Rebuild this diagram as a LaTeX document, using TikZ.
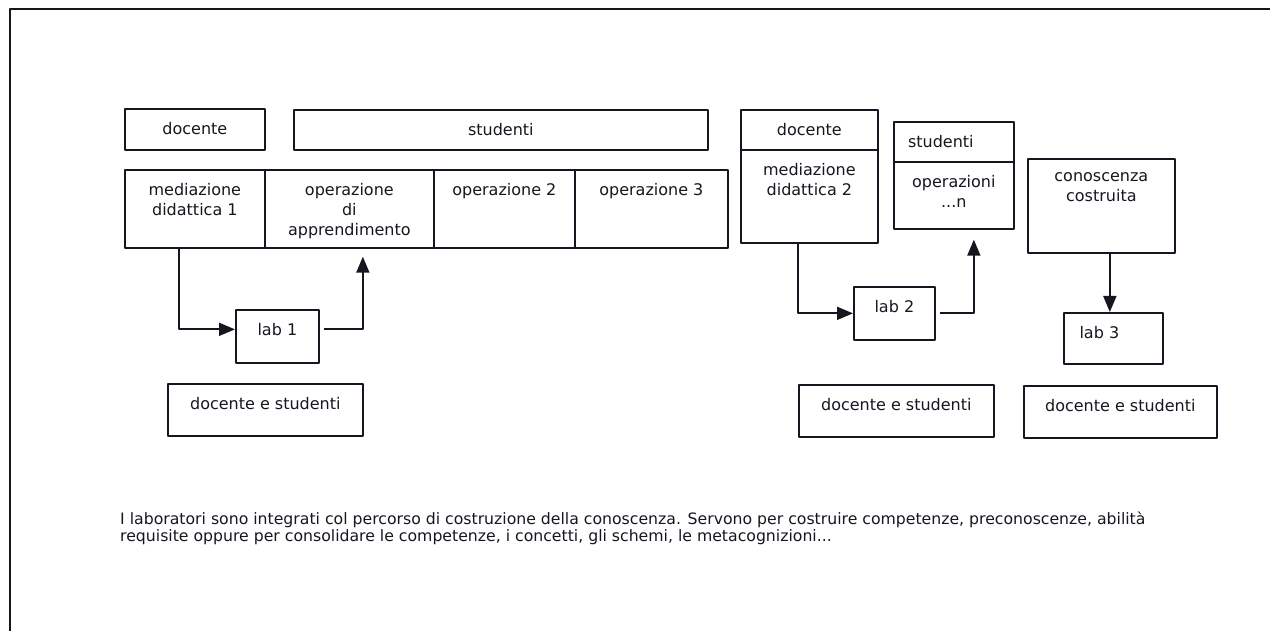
\documentclass[tikz,border=0pt]{standalone}
\usepackage{fontspec}
\setmainfont{DejaVu Sans}
\usetikzlibrary{arrows.meta}
\definecolor{ink}{RGB}{22,22,32}
\begin{document}
\begin{tikzpicture}[x=1pt, y=-1pt, line join=round, ink,
	box/.style={draw=ink, line width=1.7pt, inner sep=0pt, anchor=north west},
	toptext/.style={label={[anchor=north, inner sep=0pt, yshift=-14pt, align=center, font=\fontsize{16}{20}\selectfont]north:{#1}}},
	arr/.style={line width=1.7pt, -{Triangle[length=16pt,width=13pt]}}]
				\useasboundingbox (0,0) rectangle (1270,631);
				\draw[line width=2.5pt] (10,631) -- (10,9) -- (1270,9);
				\node[box, minimum width=140pt, minimum height=41pt, toptext=docente] (doc1) at (124,108) {};
				\node[box, minimum width=414pt, minimum height=40pt, toptext=studenti] (stud1) at (293,109) {};
				\foreach \n/\x/\w/\t in {med1/124/140/{mediazione\\didattica 1}, opa/264/169/{operazione\\di\\apprendimento}, op2/433/141/{operazione 2}, op3/574/153/{operazione 3}}
					\node[box, minimum width=\w pt, minimum height=78pt, toptext=\t] (\n) at (\x,169) {};
				\node[box, minimum width=137pt, minimum height=40pt, toptext=docente] (doc2) at (740,109) {};
				\node[box, minimum width=137pt, minimum height=93pt, toptext={mediazione\\didattica 2}] (med2) at (740,149) {};
				\node[box, minimum width=120pt, minimum height=40pt, toptext={studenti\hspace*{26pt}}] (stud2) at (893,121) {};
				\node[box, minimum width=120pt, minimum height=67pt, toptext={operazioni\\...n}] (opn) at (893,161) {};
				\node[box, minimum width=147pt, minimum height=94pt, toptext={conoscenza\\costruita}] (conosc) at (1027,158) {};
				\node[box, minimum width=83pt, minimum height=53pt, toptext={lab 1}] (lab1) at (235,309) {};
				\node[box, minimum width=81pt, minimum height=53pt, toptext={lab 2}] (lab2) at (853,286) {};
				\node[box, minimum width=99pt, minimum height=51pt, toptext={lab 3\hspace*{28pt}}] (lab3) at (1063,312) {};
				\foreach \n/\x/\y/\w in {des1/167/383/195, des2/798/384/195, des3/1023/385/193}
					\node[box, minimum width=\w pt, minimum height=52pt, toptext={docente e studenti}] (\n) at (\x,\y) {};
				\draw[arr] ([xshift=55pt]med1.south west) |- ([yshift=7pt]lab1.west);
				\draw[arr] ([yshift=7pt,xshift=4pt]lab1.east) -| ([xshift=13.5pt,yshift=-8pt]opa.south);
				\draw[arr] ([xshift=-11.5pt]med2.south) |- (lab2.west);
				\draw[arr] ([xshift=4pt]lab2.east) -| ([xshift=20pt,yshift=-10pt]opn.south);
				\draw[arr] ([xshift=8.5pt]conosc.south) -- ([xshift=-3.5pt]lab3.north);
				\node[anchor=north west, inner sep=0pt, align=left, font=\fontsize{15.7}{17}\selectfont] (note) at (120,512) {I laboratori sono integrati col percorso di costruzione della conoscenza. Servono per costruire competenze, preconoscenze, abilità\\requisite oppure per consolidare le competenze, i concetti, gli schemi, le metacognizioni...};
\end{tikzpicture}
\end{document}
